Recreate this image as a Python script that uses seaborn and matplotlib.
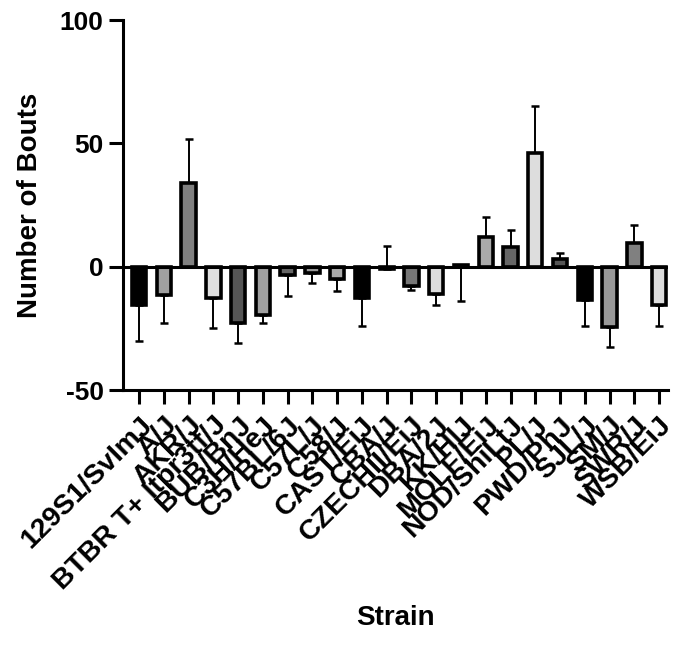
import matplotlib
matplotlib.use("Agg")
import matplotlib.pyplot as plt
import seaborn as sns
import numpy as np
import pandas as pd

# Strain means (Number of Bouts) and one-sided SEM
strains = ["129S1/SvImJ", "A/J", "AKR/J", "BTBR T+ Itpr3tf/J", "BUB/BnJ",
           "C3H/HeJ", "C57BL/6J", "C57L/J", "C58/J", "CAST/EiJ", "CBA/J",
           "CZECHII/EiJ", "DBA/2J", "KK/HlJ", "MOLF/EiJ", "NOD/ShiLtJ",
           "PL/J", "PWD/PhJ", "SJL/J", "SM/J", "SWR/J", "WSB/EiJ"]
means = [-15.5, -11.5, 34, -12.5, -23, -19.5, -3.5, -2.5, -5, -12.5, -1,
         -8, -11, 0.5, 12, 8, 46, 3, -13.5, -24.5, 9.5, -15.5]
err_low = [14.5, 11.5, 0, 12.5, 8, 3.5, 8.5, 4, 5, 11.5, 0,
           1.5, 4.5, 14.5, 0, 0, 0, 0, 10.5, 8, 0, 8.5]
err_high = [0, 0, 18, 0, 0, 0, 0, 0, 0, 0, 9.5,
            0, 0, 0, 8, 7, 19, 2.5, 0, 0, 7.5, 0]
fills = ["#000000", "#a0a0a0", "#808080", "#e0e0e0", "#555555", "#a0a0a0",
         "#666666", "#999999", "#aaaaaa", "#000000", "#999999", "#777777",
         "#dddddd", "#555555", "#aaaaaa", "#666666", "#dddddd", "#555555",
         "#000000", "#999999", "#808080", "#dddddd"]

df = pd.DataFrame({"Strain": strains, "Bouts": means})

sns.set_style("ticks")
plt.rcParams["font.family"] = ["Liberation Sans", "DejaVu Sans"]
plt.rcParams["font.weight"] = "bold"
for key in ["text.color", "axes.labelcolor", "xtick.color", "ytick.color",
            "axes.edgecolor"]:
    plt.rcParams[key] = "black"

fig = plt.figure(figsize=(6.77, 6.5), dpi=100)
ax = fig.add_axes([0.1817, 0.4, 0.805, 0.569])

sns.barplot(data=df, x="Strain", y="Bouts", hue="Strain", palette=fills,
            legend=False, width=0.58, edgecolor="black", linewidth=2.6,
            errorbar=None, ax=ax, zorder=3)

x = np.arange(len(strains))
ax.errorbar(x, means, yerr=[err_low, err_high], fmt="none", ecolor="black",
            elinewidth=1.4, capsize=3, capthick=1.8, zorder=2)
ax.axhline(0, color="black", lw=2.2, zorder=4)

ax.set_xlim(-0.65, len(strains) - 0.64)
ax.set_ylim(-50, 100)
ax.set_yticks([-50, 0, 50, 100])
ax.set_yticklabels(["-50", "0", "50", "100"], fontsize=19, fontweight="bold")
ax.set_xticks(x)
ax.set_xticklabels(strains, rotation=45, ha="right", rotation_mode="anchor",
                   fontsize=20.5, fontweight="bold")

sns.despine(ax=ax)
for side in ["left", "bottom"]:
    ax.spines[side].set_linewidth(2.2)
ax.tick_params(axis="both", width=2.2, length=10, color="black", pad=4)
ax.tick_params(axis="x", pad=6)

ax.set_ylabel("Number of Bouts", fontsize=20, fontweight="bold", labelpad=12)
ax.set_xlabel("Strain", fontsize=20, fontweight="bold", labelpad=12)
ax.xaxis.set_label_coords(0.5, -0.58)

fig.savefig("out.png", dpi=100)
